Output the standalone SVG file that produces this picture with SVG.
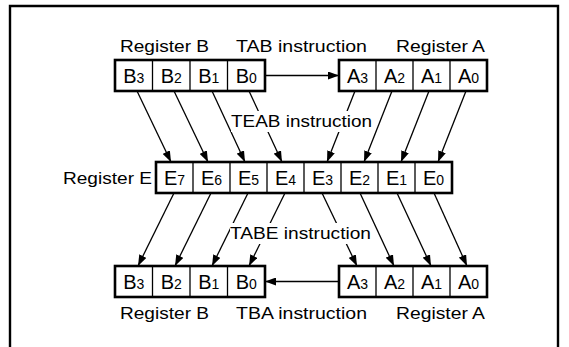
<svg xmlns="http://www.w3.org/2000/svg" width="569" height="347" viewBox="0 0 569 347">
<style>
.frame{fill:none;stroke:#000;stroke-width:2.4}
.box{fill:#fff;stroke:#000;stroke-width:2.6}
.dv{stroke:#000;stroke-width:1.3}
.lbl{font-family:"Liberation Sans",Arial,sans-serif;font-size:17px;fill:#000}
.cell{font-family:"Liberation Sans",Arial,sans-serif;font-size:20px;fill:#000;text-anchor:middle}
.sub{font-size:14px}
.conn{stroke:#000;stroke-width:1.3;fill:none;marker-end:url(#ah)}
.mask{fill:#fff}
</style>
<defs>
<marker id="ah" markerUnits="userSpaceOnUse" markerWidth="11" markerHeight="8" refX="11" refY="4" orient="auto">
<path d="M0,0 L11,4 L0,8 z" fill="#000"/>
</marker>
</defs>
<rect x="0" y="0" width="569" height="347" fill="#fff"/>
<path class="frame" d="M10,347 V6 H558 V347"/>

<g id="connectors">
<line class="conn" x1="265" y1="75.5" x2="339" y2="75.5"/>
<line class="conn" x1="339" y1="281.5" x2="265" y2="281.5"/>
<line class="conn" x1="137" y1="91" x2="171" y2="162"/>
<line class="conn" x1="174" y1="91" x2="208" y2="162"/>
<line class="conn" x1="212" y1="91" x2="245" y2="162"/>
<line class="conn" x1="249" y1="91" x2="282" y2="162"/>
<line class="conn" x1="355" y1="91" x2="327" y2="162"/>
<line class="conn" x1="392" y1="91" x2="364" y2="162"/>
<line class="conn" x1="429" y1="91" x2="401" y2="162"/>
<line class="conn" x1="466" y1="91" x2="438" y2="162"/>
<line class="conn" x1="174" y1="193" x2="138" y2="266"/>
<line class="conn" x1="211" y1="193" x2="175" y2="266"/>
<line class="conn" x1="248" y1="193" x2="212" y2="266"/>
<line class="conn" x1="285" y1="193" x2="249" y2="266"/>
<line class="conn" x1="322" y1="193" x2="357" y2="266"/>
<line class="conn" x1="360" y1="193" x2="394" y2="266"/>
<line class="conn" x1="397" y1="193" x2="431" y2="266"/>
<line class="conn" x1="434" y1="193" x2="467" y2="266"/>
</g>

<g id="labels">
<text class="lbl" x="120" y="52" textLength="89" lengthAdjust="spacingAndGlyphs">Register B</text>
<text class="lbl" x="236" y="52" textLength="131" lengthAdjust="spacingAndGlyphs">TAB instruction</text>
<text class="lbl" x="396" y="52" textLength="89" lengthAdjust="spacingAndGlyphs">Register A</text>
<rect class="mask" x="231" y="111" width="141" height="21"/>
<text class="lbl" x="231" y="127" textLength="141" lengthAdjust="spacingAndGlyphs">TEAB instruction</text>
<text class="lbl" x="63" y="184" textLength="89" lengthAdjust="spacingAndGlyphs">Register E</text>
<rect class="mask" x="230" y="223" width="141" height="21"/>
<text class="lbl" x="230" y="239" textLength="141" lengthAdjust="spacingAndGlyphs">TABE instruction</text>
<text class="lbl" x="120" y="319" textLength="89" lengthAdjust="spacingAndGlyphs">Register B</text>
<text class="lbl" x="236" y="319" textLength="131" lengthAdjust="spacingAndGlyphs">TBA instruction</text>
<text class="lbl" x="396" y="319" textLength="89" lengthAdjust="spacingAndGlyphs">Register A</text>
</g>

<g id="regB-top">
<rect class="box" x="115" y="60" width="150" height="31"/>
<line class="dv" x1="152.5" y1="60" x2="152.5" y2="91"/>
<line class="dv" x1="190" y1="60" x2="190" y2="91"/>
<line class="dv" x1="227.5" y1="60" x2="227.5" y2="91"/>
<text class="cell" x="133.75" y="82.5">B<tspan class="sub">3</tspan></text>
<text class="cell" x="171.25" y="82.5">B<tspan class="sub">2</tspan></text>
<text class="cell" x="208.75" y="82.5">B<tspan class="sub">1</tspan></text>
<text class="cell" x="246.25" y="82.5">B<tspan class="sub">0</tspan></text>
</g>

<g id="regA-top">
<rect class="box" x="339" y="60" width="148" height="31"/>
<line class="dv" x1="376" y1="60" x2="376" y2="91"/>
<line class="dv" x1="413" y1="60" x2="413" y2="91"/>
<line class="dv" x1="450" y1="60" x2="450" y2="91"/>
<text class="cell" x="357.5" y="82.5">A<tspan class="sub">3</tspan></text>
<text class="cell" x="394.5" y="82.5">A<tspan class="sub">2</tspan></text>
<text class="cell" x="431.5" y="82.5">A<tspan class="sub">1</tspan></text>
<text class="cell" x="468.5" y="82.5">A<tspan class="sub">0</tspan></text>
</g>

<g id="regE">
<rect class="box" x="156" y="162" width="296" height="31"/>
<line class="dv" x1="193" y1="162" x2="193" y2="193"/>
<line class="dv" x1="230" y1="162" x2="230" y2="193"/>
<line class="dv" x1="267" y1="162" x2="267" y2="193"/>
<line class="dv" x1="304" y1="162" x2="304" y2="193"/>
<line class="dv" x1="341" y1="162" x2="341" y2="193"/>
<line class="dv" x1="378" y1="162" x2="378" y2="193"/>
<line class="dv" x1="415" y1="162" x2="415" y2="193"/>
<text class="cell" x="174.5" y="184.5">E<tspan class="sub">7</tspan></text>
<text class="cell" x="211.5" y="184.5">E<tspan class="sub">6</tspan></text>
<text class="cell" x="248.5" y="184.5">E<tspan class="sub">5</tspan></text>
<text class="cell" x="285.5" y="184.5">E<tspan class="sub">4</tspan></text>
<text class="cell" x="322.5" y="184.5">E<tspan class="sub">3</tspan></text>
<text class="cell" x="359.5" y="184.5">E<tspan class="sub">2</tspan></text>
<text class="cell" x="396.5" y="184.5">E<tspan class="sub">1</tspan></text>
<text class="cell" x="433.5" y="184.5">E<tspan class="sub">0</tspan></text>
</g>

<g id="regB-bot">
<rect class="box" x="115" y="266" width="150" height="31"/>
<line class="dv" x1="152.5" y1="266" x2="152.5" y2="297"/>
<line class="dv" x1="190" y1="266" x2="190" y2="297"/>
<line class="dv" x1="227.5" y1="266" x2="227.5" y2="297"/>
<text class="cell" x="133.75" y="288.5">B<tspan class="sub">3</tspan></text>
<text class="cell" x="171.25" y="288.5">B<tspan class="sub">2</tspan></text>
<text class="cell" x="208.75" y="288.5">B<tspan class="sub">1</tspan></text>
<text class="cell" x="246.25" y="288.5">B<tspan class="sub">0</tspan></text>
</g>

<g id="regA-bot">
<rect class="box" x="339" y="266" width="148" height="31"/>
<line class="dv" x1="376" y1="266" x2="376" y2="297"/>
<line class="dv" x1="413" y1="266" x2="413" y2="297"/>
<line class="dv" x1="450" y1="266" x2="450" y2="297"/>
<text class="cell" x="357.5" y="288.5">A<tspan class="sub">3</tspan></text>
<text class="cell" x="394.5" y="288.5">A<tspan class="sub">2</tspan></text>
<text class="cell" x="431.5" y="288.5">A<tspan class="sub">1</tspan></text>
<text class="cell" x="468.5" y="288.5">A<tspan class="sub">0</tspan></text>
</g>
</svg>
